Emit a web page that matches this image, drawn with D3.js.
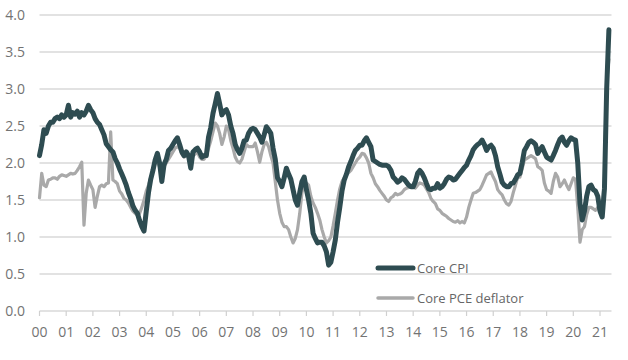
<!DOCTYPE html>
<html><head><meta charset="utf-8">
<script src="https://cdn.jsdelivr.net/npm/d3@7"></script>
<style>
html,body{margin:0;padding:0;background:#fff;}
svg{display:block;font-family:"Open Sans",sans-serif;}
</style></head>
<body><svg id="c" width="628" height="360"></svg>
<script>
// Monthly data, Jan 2000 .. May 2021 (% y/y)
const yearLabels = ["00","01","02","03","04","05","06","07","08","09","10","11","12","13","14","15","16","17","18","19","20","21"];
const yTicks = [0,0.5,1,1.5,2,2.5,3,3.5,4];
const seriesNames = ["Core CPI","Core PCE deflator"];

const coreCPI = [
 2.10,2.25,2.45,2.40,2.50,2.55,2.55,2.60,2.62,2.60,2.65,2.62, // 2000
 2.65,2.78,2.62,2.68,2.66,2.70,2.62,2.68,2.65,2.70,2.78,2.72, // 2001
 2.68,2.60,2.55,2.52,2.45,2.38,2.26,2.22,2.18,2.15,2.06,2.00, // 2002
 1.92,1.85,1.78,1.70,1.60,1.52,1.42,1.36,1.32,1.22,1.14,1.08, // 2003
 1.35,1.60,1.78,1.90,2.04,2.13,2.00,1.75,1.98,2.05,2.17,2.20, // 2004
 2.25,2.30,2.34,2.25,2.15,2.10,2.15,2.10,1.93,2.15,2.18,2.20, // 2005
 2.15,2.08,2.10,2.10,2.35,2.48,2.67,2.80,2.94,2.80,2.65,2.70, // 2006
 2.72,2.65,2.50,2.40,2.25,2.18,2.13,2.20,2.30,2.31,2.40,2.45, // 2007
 2.47,2.45,2.40,2.35,2.28,2.38,2.49,2.45,2.40,2.20,2.05,1.80, // 2008
 1.75,1.68,1.80,1.93,1.85,1.78,1.64,1.50,1.43,1.60,1.75,1.81, // 2009
 1.64,1.50,1.32,1.05,0.98,0.92,0.93,0.93,0.88,0.80,0.62,0.66, // 2010
 0.80,0.96,1.20,1.40,1.62,1.77,1.85,1.95,2.02,2.10,2.17,2.20, // 2011
 2.24,2.24,2.30,2.34,2.28,2.22,2.04,2.02,2.00,1.98,1.97,1.97, // 2012
 1.97,1.95,1.90,1.81,1.78,1.74,1.76,1.80,1.78,1.74,1.70,1.68, // 2013
 1.68,1.75,1.86,1.90,1.86,1.80,1.72,1.65,1.64,1.66,1.66,1.72, // 2014
 1.66,1.68,1.72,1.78,1.81,1.80,1.77,1.78,1.82,1.86,1.90,1.94, // 2015
 1.97,2.04,2.10,2.18,2.22,2.25,2.27,2.31,2.25,2.17,2.22,2.24, // 2016
 2.20,2.10,1.95,1.85,1.74,1.70,1.68,1.68,1.72,1.73,1.78,1.84, // 2017
 1.86,2.00,2.17,2.22,2.28,2.30,2.28,2.25,2.13,2.18,2.22,2.15, // 2018
 2.08,2.06,2.04,2.10,2.17,2.25,2.32,2.35,2.28,2.24,2.30,2.34, // 2019
 2.32,2.31,2.00,1.45,1.23,1.35,1.55,1.68,1.70,1.64,1.62,1.55, // 2020
 1.35,1.27,1.65,3.00,3.80                                     // 2021
];

const corePCE = [
 1.53,1.86,1.70,1.68,1.77,1.78,1.80,1.80,1.78,1.82,1.84,1.83, // 2000
 1.82,1.84,1.86,1.85,1.86,1.90,1.95,2.01,1.16,1.59,1.77,1.70, // 2001
 1.64,1.40,1.55,1.68,1.70,1.68,1.72,1.73,2.42,1.77,1.75,1.72, // 2002
 1.62,1.58,1.52,1.50,1.46,1.40,1.35,1.32,1.30,1.32,1.40,1.50, // 2003
 1.62,1.70,1.80,1.90,2.00,2.02,1.95,1.85,1.95,2.00,2.05,2.10, // 2004
 2.15,2.20,2.22,2.20,2.12,2.08,2.10,2.08,2.00,2.10,2.12,2.15, // 2005
 2.08,2.05,2.05,2.10,2.20,2.30,2.42,2.54,2.50,2.40,2.25,2.35, // 2006
 2.50,2.45,2.30,2.20,2.08,2.02,2.00,2.05,2.15,2.25,2.22,2.22, // 2007
 2.22,2.27,2.15,2.01,2.15,2.25,2.28,2.22,2.10,2.00,1.75,1.50, // 2008
 1.32,1.20,1.14,1.14,1.10,1.00,0.92,0.98,1.10,1.32,1.60,1.72, // 2009
 1.73,1.70,1.55,1.46,1.40,1.32,1.23,1.10,1.00,0.92,0.95,1.00, // 2010
 1.15,1.32,1.50,1.65,1.75,1.80,1.84,1.87,1.90,1.95,2.00,2.05, // 2011
 2.08,2.13,2.12,2.07,2.00,1.86,1.80,1.72,1.68,1.63,1.59,1.55, // 2012
 1.50,1.48,1.53,1.55,1.59,1.57,1.58,1.60,1.64,1.66,1.67,1.68, // 2013
 1.68,1.66,1.70,1.73,1.72,1.70,1.65,1.60,1.52,1.48,1.45,1.38, // 2014
 1.36,1.32,1.30,1.28,1.25,1.23,1.21,1.20,1.22,1.19,1.21,1.19, // 2015
 1.27,1.40,1.50,1.59,1.60,1.62,1.64,1.70,1.77,1.84,1.86,1.88, // 2016
 1.81,1.75,1.64,1.60,1.57,1.50,1.45,1.43,1.48,1.60,1.70,1.81, // 2017
 1.81,1.92,2.04,2.06,2.08,2.10,2.08,2.06,1.95,1.93,1.90,1.73, // 2018
 1.64,1.62,1.59,1.75,1.86,1.81,1.68,1.72,1.77,1.70,1.64,1.72, // 2019
 1.80,1.78,1.40,0.93,1.10,1.14,1.30,1.40,1.40,1.38,1.36,1.40, // 2020
 1.45,1.36,1.80,3.10,3.40                                     // 2021
];

const colors = ["#2e4c51", "#a9a9a9"];

const svg = d3.select("#c");
const x = d3.scaleLinear().domain([0, 252]).range([39.5, 600]);
const y = d3.scaleLinear().domain([0, 4]).range([311, 15]);
const xGridEnd = 611.5;

// gridlines
svg.append("g").selectAll("line").data(yTicks).join("line")
  .attr("x1", 39.5).attr("x2", xGridEnd)
  .attr("y1", d => y(d)).attr("y2", d => y(d))
  .attr("stroke", "#d9d9d9").attr("stroke-width", 1.5);

// y labels
svg.append("g").selectAll("text").data(yTicks).join("text")
  .attr("x", 25).attr("y", d => y(d)).attr("dy", "0.35em")
  .attr("text-anchor", "end").attr("fill", "#737373")
  .attr("font-size", 14).text(d => d3.format(".1f")(d));

// x axis ticks + labels
const xa = svg.append("g");
xa.selectAll("line").data(yearLabels).join("line")
  .attr("x1", (d,i) => x(i*12)).attr("x2", (d,i) => x(i*12))
  .attr("y1", y(0)).attr("y2", y(0) + 5)
  .attr("stroke", "#d0d0d0").attr("stroke-width", 1.2);
xa.selectAll("text").data(yearLabels).join("text")
  .attr("x", (d,i) => x(i*12)).attr("y", 332).attr("dy", "0.35em")
  .attr("text-anchor", "middle").attr("fill", "#737373")
  .attr("font-size", 14).text(d => d);

// lines (PCE underneath, CPI on top)
const line = d3.line().x((d,i) => x(i)).y(d => y(d)).curve(d3.curveLinear);
svg.append("path").datum(corePCE).attr("d", line)
  .attr("fill", "none").attr("stroke", colors[1]).attr("stroke-width", 3.2)
  .attr("stroke-linejoin", "round").attr("stroke-linecap", "round");
svg.append("path").datum(coreCPI).attr("d", line)
  .attr("fill", "none").attr("stroke", colors[0]).attr("stroke-width", 5)
  .attr("stroke-linejoin", "round").attr("stroke-linecap", "round");

// legend
const lg = svg.append("g");
const legY = [268, 298];
seriesNames.forEach((name, i) => {
  lg.append("line").attr("x1", 378).attr("x2", 413)
    .attr("y1", legY[i]).attr("y2", legY[i])
    .attr("stroke", colors[i]).attr("stroke-width", i === 0 ? 5 : 3.5)
    .attr("stroke-linecap", "round");
  lg.append("text").attr("x", 417).attr("y", legY[i]).attr("dy", "0.35em")
    .attr("fill", "#666").attr("font-size", 13).text(name);
});
</script>
</body></html>
